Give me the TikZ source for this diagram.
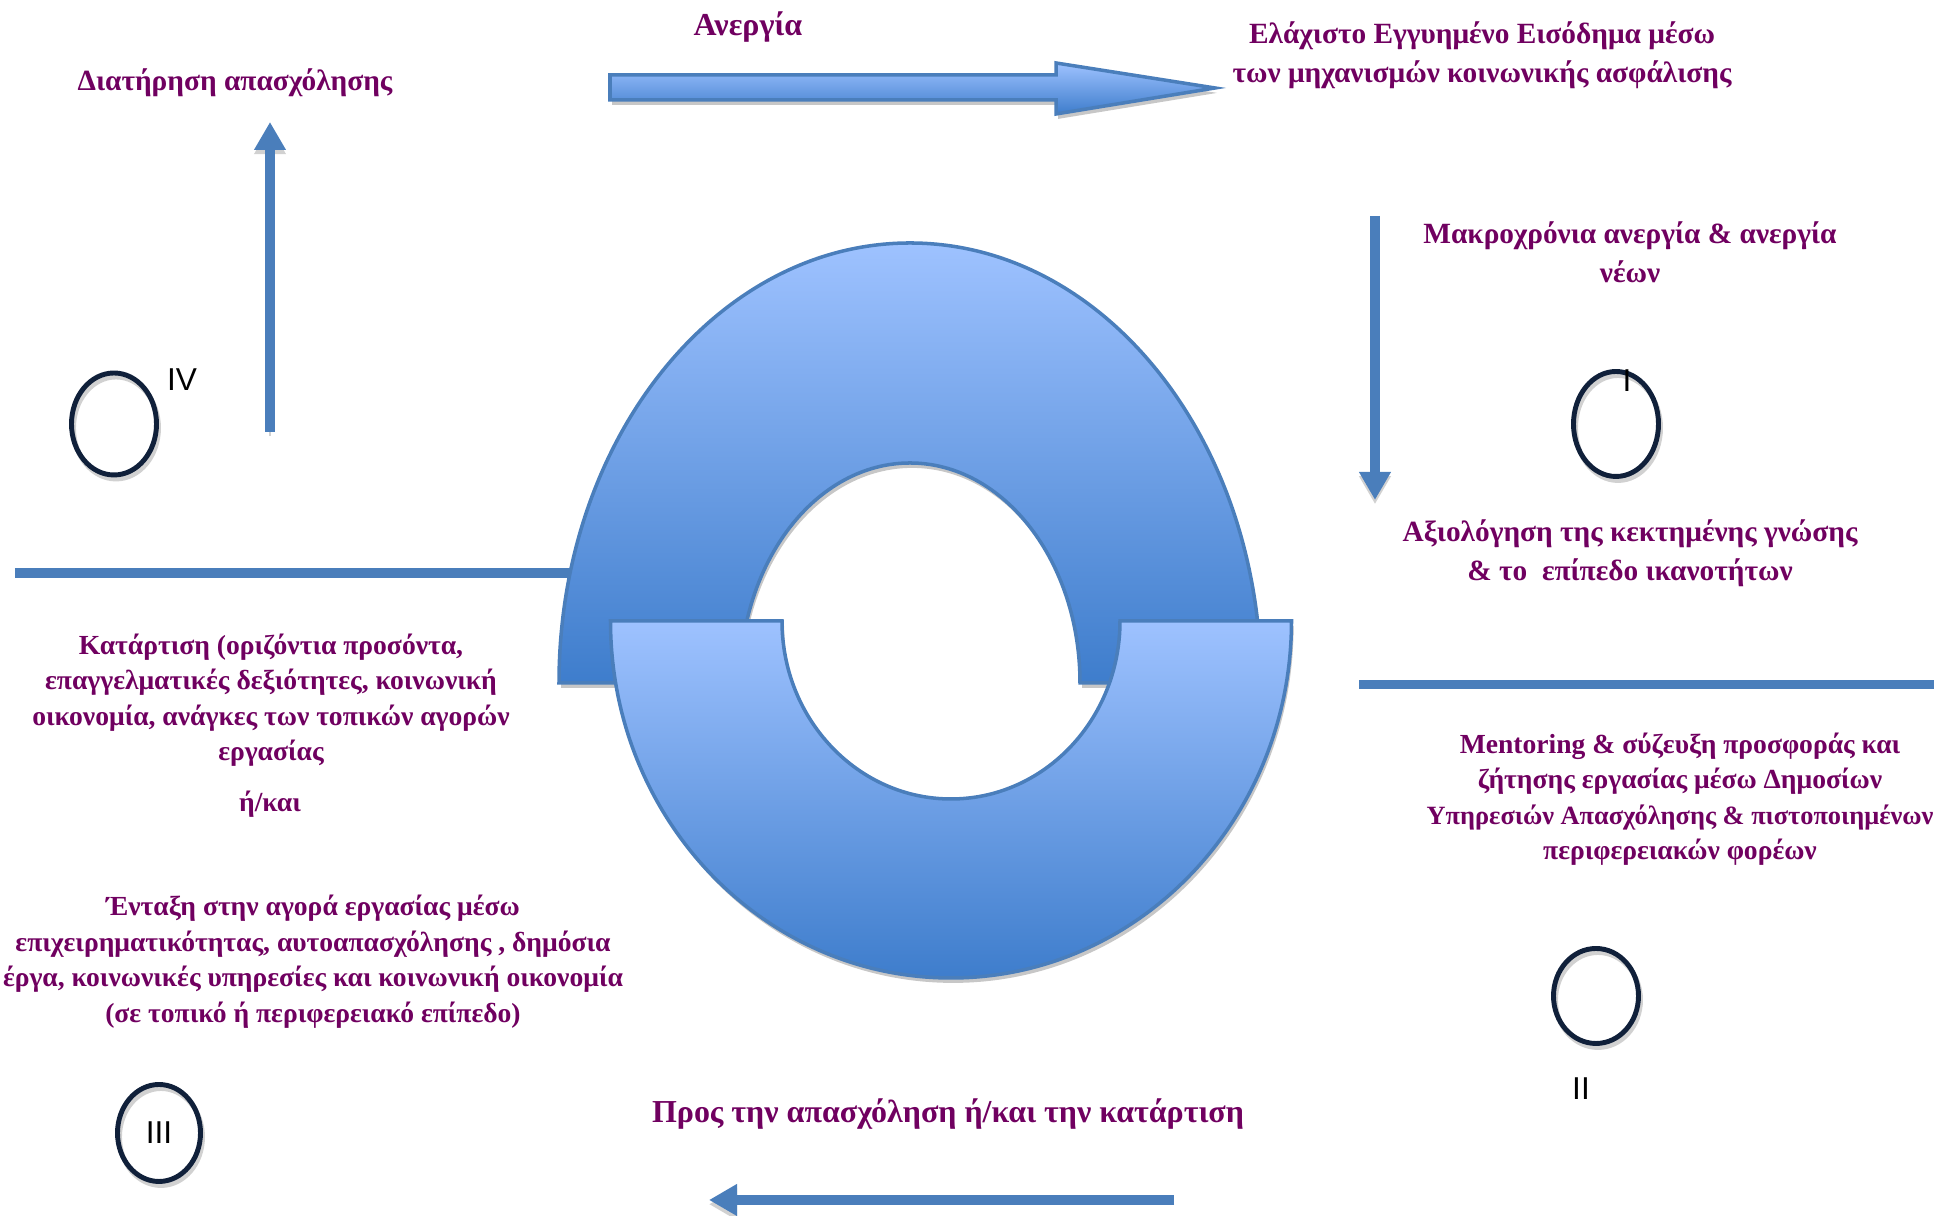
\documentclass[tikz,border=0pt]{standalone}
\usepackage{fontspec}
\setmainfont{Liberation Serif}
\newfontfamily\numfont{Liberation Sans}
\usetikzlibrary{shapes.geometric, positioning, arrows.meta, shadows}
\definecolor{plum}{RGB}{112,0,96}
\definecolor{skytop}{RGB}{158,194,255}
\definecolor{skybot}{RGB}{62,125,204}
\definecolor{edgeblue}{RGB}{74,126,187}
\definecolor{navy}{RGB}{16,32,58}
\tikzset{
  caption/.style={
    text=plum,
    font=\bfseries\fontsize{8.35}{11.1}\selectfont,
    align=center,
    inner sep=0pt
  },
  block/.style={
    caption,
    font=\bfseries\fontsize{7.85}{10.1}\selectfont
  },
  heading/.style={
    caption,
    font=\bfseries\fontsize{9.1}{11}\selectfont
  },
  ring/.style={
    ellipse,
    draw=navy, line width=1.4pt,
    minimum width=0.85cm,
    minimum height=1.02cm,
    inner sep=0pt,
    font=\numfont\fontsize{9}{9}\selectfont,
    preaction={draw=black!18, transform canvas={shift={(0.02,-0.04)}}}
  },
  numeral/.style={
    font=\numfont\fontsize{9}{9}\selectfont,
    inner sep=0pt
  },
  bar/.style={
    draw=edgeblue,
    line width=2.6pt,
    preaction={draw=black!18, transform canvas={yshift=-1.2pt}}
  },
  flow/.style={
    bar,
    -{Triangle[length=2.8mm,width=3mm]}
  },
  band/.style={
    top color=skytop,
    bottom color=skybot,
    draw=edgeblue,
    line width=1pt,
    drop shadow={shadow xshift=0.6pt, shadow yshift=-1.4pt, fill=black!22, opacity=1}
  }
}

\begin{document}
\begin{tikzpicture}
\useasboundingbox (0,0) rectangle (19.36,12.16);

% bars
\coordinate (bl0) at (0.15,6.43);
\coordinate (bl1) at (6.00,6.43);
\draw[bar] (bl0) -- (bl1);
\coordinate (br0) at (13.59,5.315);
\coordinate (br1) at (19.34,5.315);
\draw[bar] (br0) -- (br1);

% cycle
\path[band] (5.59,5.33)
  arc[start angle=180, end angle=0, x radius=3.51, y radius=4.40]
  -- (10.80,5.33)
  arc[start angle=0, end angle=180, x radius=1.70, y radius=2.20]
  -- cycle;
\path[band] (6.105,5.95)
  arc[start angle=180, end angle=360, x radius=3.405, y radius=3.57]
  -- (11.20,5.95)
  arc[start angle=0, end angle=-180, x radius=1.69, y radius=1.78]
  -- cycle;

% big arrow
\path[band] (6.10,11.41) -- (10.56,11.41) -- (10.56,11.53) -- (12.15,11.28)
  -- (10.56,11.02) -- (10.56,11.16) -- (6.10,11.16) -- cycle;

% nodes
\node[heading] (unemp) at (7.48,11.89) {Ανεργία};
\node[caption] (income) at (14.82,11.61)
  {Ελάχιστο Εγγυημένο Εισόδημα μέσω\\
   των μηχανισμών κοινωνικής ασφάλισης};
\node[caption] (retain) at (2.35,11.33) {Διατήρηση απασχόλησης};
\node[caption] (longterm) at (16.30,9.64)
  {Μακροχρόνια ανεργία \& ανεργία\\
   νέων};
\node[caption] (assess) at (16.30,6.625)
  {Αξιολόγηση της κεκτημένης γνώσης\\
   \& το\ \ επίπεδο ικανοτήτων};
\node[block] (train) at (2.71,5.16)
  {Κατάρτιση (οριζόντια προσόντα,\\
   επαγγελματικές δεξιότητες, κοινωνική\\
   οικονομία, ανάγκες των τοπικών αγορών\\
   εργασίας};
\node[block] (andor) at (2.70,4.12) {ή/και};
\node[block] (integr) at (3.13,2.545)
  {Ένταξη στην αγορά εργασίας μέσω\\
   επιχειρηματικότητας, αυτοαπασχόλησης , δημόσια\\
   έργα, κοινωνικές υπηρεσίες και κοινωνική οικονομία\\
   (σε τοπικό ή περιφερειακό επίπεδο)};
\node[block] (mentor) at (16.80,4.17)
  {Mentoring \& σύζευξη προσφοράς και\\
   ζήτησης εργασίας μέσω Δημοσίων\\
   {\fontsize{7.5}{10.1}\selectfont Υπηρεσιών Απασχόλησης \& πιστοποιημένων}\\
   περιφερειακών φορέων};
\node[heading] (toward) at (9.48,1.02) {Προς την απασχόληση ή/και την κατάρτιση};

% rings
\node[ring] (r4) at (1.14,7.92) {};
\node[numeral] (n4) at (1.82,8.36) {IV};
\node[ring, minimum height=1.05cm] (r1) at (16.16,7.92) {};
\node[numeral] (n1) at (16.27,8.35) {I};
\node[ring, minimum height=0.95cm] (r2) at (15.96,2.20) {};
\node[numeral] (n2) at (15.81,1.27) {II};
\node[ring, minimum width=0.83cm, minimum height=0.97cm] (r3) at (1.59,0.83) {III};

% arrows
\coordinate (up0) at (2.70,7.84);
\coordinate (up1) at (2.70,10.94);
\draw[flow] (up0) -- (up1);
\coordinate (dn0) at (13.75,10.00);
\coordinate (dn1) at (13.75,7.16);
\draw[flow] (dn0) -- (dn1);
\coordinate (lf0) at (11.74,0.16);
\coordinate (lf1) at (7.09,0.16);
\draw[flow] (lf0) -- (lf1);

\end{tikzpicture}
\end{document}
